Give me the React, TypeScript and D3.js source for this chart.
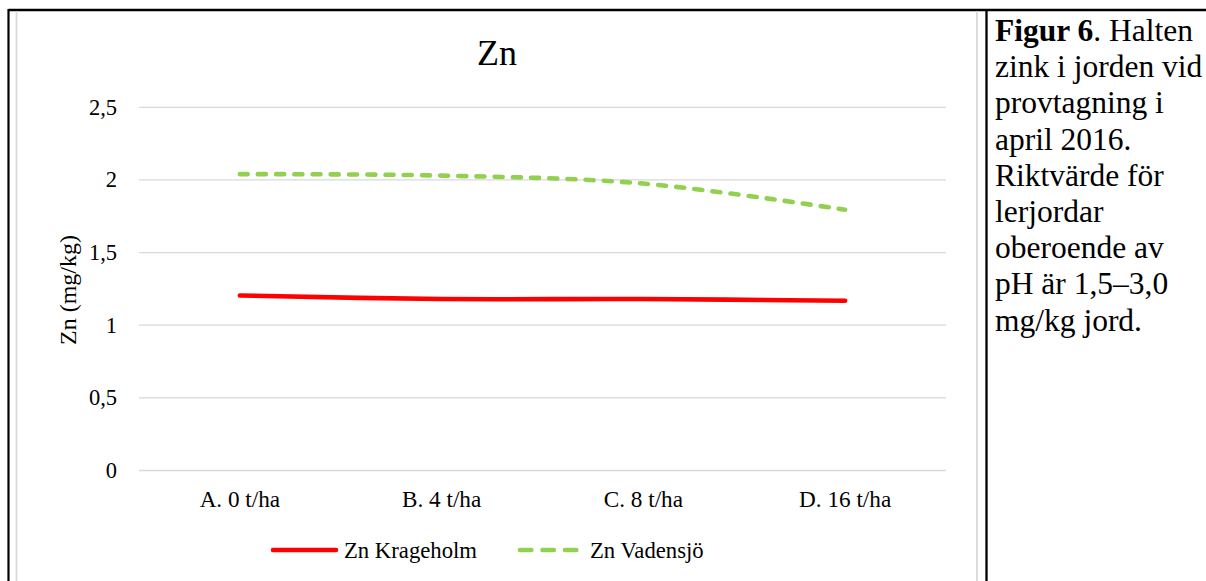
import React from "react";
import * as d3 from "d3";

const categories = ["A. 0 t/ha", "B. 4 t/ha", "C. 8 t/ha", "D. 16 t/ha"];
const krageholm = [1.205, 1.18, 1.18, 1.168];
const vadensjo = [2.04, 2.03, 1.975, 1.795];
const yTicks = [0, 0.5, 1, 1.5, 2, 2.5];
const seriesNames = ["Zn Krageholm", "Zn Vadensjö"];
const captionLines = [
  "zink i jorden vid",
  "provtagning i",
  "april 2016.",
  "Riktvärde för",
  "lerjordar",
  "oberoende av",
  "pH är 1,5–3,0",
  "mg/kg jord.",
];

const W = 1206;
const H = 581;
const FONT = "'Liberation Serif', 'Times New Roman', serif";

export default function App() {
  const x = d3.scaleBand<string>().domain(categories).range([139, 946]).padding(0);
  const y = d3.scaleLinear().domain([0, 2.5]).range([470.5, 107.3]);
  const cx = (c: string) => (x(c) as number) + x.bandwidth() / 2;
  const line = d3
    .line<number>()
    .x((_, i) => cx(categories[i]))
    .y((d) => y(d))
    .curve(d3.curveCardinal.tension(0));
  const fmt = (v: number) => String(v).replace(".", ",");

  return (
    <svg
      width={W}
      height={H}
      style={{ position: "absolute", left: 0, top: 0, background: "#fff" }}
      fontFamily={FONT}
    >
      {/* table frame */}
      <line x1={8.5} x2={W} y1={10} y2={10} stroke="#000" strokeWidth={2.5} />
      <line x1={8.5} x2={8.5} y1={9} y2={H} stroke="#000" strokeWidth={2.2} />
      <line x1={986.5} x2={986.5} y1={9} y2={H} stroke="#000" strokeWidth={2.3} />
      {/* chart border */}
      <line x1={16.5} x2={16.5} y1={11} y2={H} stroke="#d9d9d9" strokeWidth={1.8} />
      <line x1={977} x2={977} y1={11} y2={H} stroke="#d9d9d9" strokeWidth={1.8} />

      {/* title */}
      <text x={497} y={65} fontSize={36} textAnchor="middle" fill="#000">
        Zn
      </text>

      {/* gridlines */}
      {yTicks.map((t) => (
        <g key={t}>
          <line x1={139} x2={946} y1={y(t)} y2={y(t)} stroke="#d9d9d9" strokeWidth={1.3} />
          <text x={117} y={y(t) + 7.5} fontSize={22.5} textAnchor="end" fill="#000">
            {fmt(t)}
          </text>
        </g>
      ))}

      {/* x labels */}
      {categories.map((c) => (
        <text key={c} x={cx(c)} y={507} fontSize={23.2} textAnchor="middle" fill="#000">
          {c}
        </text>
      ))}

      {/* y-axis title */}
      <text
        transform={`translate(76,290) rotate(-90)`}
        fontSize={24}
        textAnchor="middle"
        fill="#000"
      >
        Zn (mg/kg)
      </text>

      {/* series */}
      <path d={line(krageholm) || ""} fill="none" stroke="#FF0000" strokeWidth={4.6} strokeLinecap="round" />
      <path
        d={line(vadensjo) || ""}
        fill="none"
        stroke="#92D050"
        strokeWidth={4.6}
        strokeLinecap="round"
        strokeDasharray="8 10.2"
      />

      {/* legend */}
      <line x1={273} x2={336} y1={550} y2={550} stroke="#FF0000" strokeWidth={4.6} strokeLinecap="round" />
      <text x={344} y={558} fontSize={22.7} fill="#000">
        {seriesNames[0]}
      </text>
      <line
        x1={520}
        x2={577}
        y1={550}
        y2={550}
        stroke="#92D050"
        strokeWidth={4.6}
        strokeLinecap="round"
        strokeDasharray="11.3 11.2"
      />
      <text x={590} y={558} fontSize={22.7} fill="#000">
        {seriesNames[1]}
      </text>

      {/* caption */}
      <text x={995} y={41} fontSize={31.5} fill="#000">
        <tspan fontWeight="bold">Figur 6</tspan>. Halten
      </text>
      {captionLines.map((l, i) => (
        <text key={l} x={995} y={41 + (i + 1) * 36.2} fontSize={31.5} fill="#000">
          {l}
        </text>
      ))}
    </svg>
  );
}
